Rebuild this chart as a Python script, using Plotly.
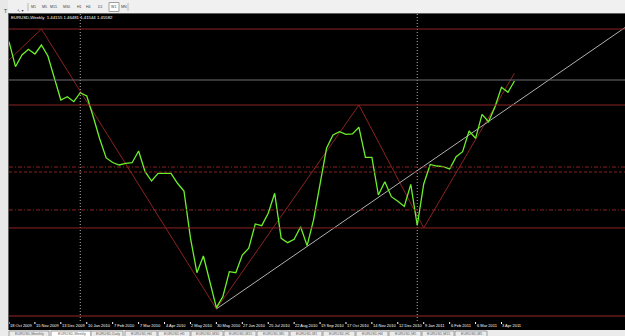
import plotly.graph_objects as go
import pandas as pd

# ---------------- data ----------------
first_week = "2009-10-18"
closes = [1.5034, 1.4739, 1.4877, 1.4944, 1.4889, 1.4995, 1.4865, 1.4602, 1.4346, 1.4385,
          1.4326, 1.4432, 1.4393, 1.4149, 1.3886, 1.3662, 1.3608, 1.3579, 1.3599, 1.3606,
          1.3744, 1.3500, 1.3390, 1.3481, 1.3481, 1.3481, 1.3363, 1.3272, 1.2718, 1.2308,
          1.2505, 1.2210, 1.1895, 1.2025, 1.2320, 1.2308, 1.2517, 1.2596, 1.2883, 1.2863,
          1.3009, 1.3245, 1.2714, 1.2662, 1.2702, 1.2851, 1.2627, 1.2930, 1.3363, 1.3776,
          1.3933, 1.3972, 1.3941, 1.3945, 1.4024, 1.3670, 1.3670, 1.3225, 1.3382, 1.3205,
          1.3152, 1.3090, 1.3351, 1.2865, 1.3355, 1.3585, 1.3567, 1.3559, 1.3532, 1.3677,
          1.3736, 1.3980, 1.3894, 1.4177, 1.4090, 1.4267, 1.4496, 1.4437, 1.4570]

zigzag_dates = ["2009-10-18", "2009-11-22", "2010-05-30", "2010-10-31", "2011-01-09", "2011-04-17"]
zigzag_prices = [1.4818, 1.5184, 1.1880, 1.4287, 1.2836, 1.4661]

trend_dates = ["2010-05-30", "2011-01-16"]
trend_prices = [1.1880, 1.3618]

level_prices = [1.5184, 1.4287, 1.3555, 1.3496, 1.3048, 1.2836]
level_dashes = ["solid", "solid", "4px,2px,1px,2px", "3px,2px", "4px,2px,1px,2px", "solid"]
bottom_level = 1.1797
bid_price = 1.4582

separator_dates = ["2010-01-03", "2011-01-02"]

label_dates = ["2009-10-18", "2009-11-15", "2009-12-13", "2010-01-10", "2010-02-07", "2010-03-07",
               "2010-04-04", "2010-05-02", "2010-05-30", "2010-06-27", "2010-07-25", "2010-08-22",
               "2010-09-19", "2010-10-17", "2010-11-14", "2010-12-12", "2011-01-09", "2011-02-06",
               "2011-03-06", "2011-04-03"]
label_texts = ["18 Oct 2009", "15 Nov 2009", "13 Dec 2009", "10 Jan 2010", "7 Feb 2010", "7 Mar 2010",
               "4 Apr 2010", "2 May 2010", "30 May 2010", "27 Jun 2010", "25 Jul 2010", "22 Aug 2010",
               "19 Sep 2010", "17 Oct 2010", "14 Nov 2010", "12 Dec 2010", "9 Jan 2011", "6 Feb 2011",
               "6 Mar 2011", "3 Apr 2011"]

header_text = "EURUSD,Weekly  1.44155 1.46481 1.41544 1.45582"
toolbar_buttons = ["M1", "M5", "M15", "M30", "H1", "H4", "D1", "W1", "MN"]
tab_texts = ["EURUSD,Monthly", "EURUSD,Weekly", "EURUSD,Daily", "EURUSD,H4", "EURUSD,H1",
             "EURUSD,M30", "EURUSD,M15", "EURUSD,M5", "EURUSD,M1", "EURUSD,H1", "EURUSD,H4",
             "EURUSD,M5", "EURUSD,M15", "EURUSD,M5"]

x_range = ["2009-10-18", "2011-08-14 10:00"]
y_range = [1.1726, 1.5361]

# ---------------- layout helpers (pixel placement of chrome) ----------------
W, H = 625, 336
L, R, T, B = 9, 0, 14, 14
PW, PH = W - L - R, H - T - B


def px(xp):
    return (xp - L) / PW


def py(yp):
    return (H - B - yp) / PH


dates = pd.date_range(first_week, periods=len(closes), freq="7D")

fig = go.Figure()

# zigzag
fig.add_trace(go.Scatter(x=zigzag_dates, y=zigzag_prices, mode="lines",
                         line=dict(color="#8c2222", width=1), hoverinfo="skip"))

# trend line (ray extended to right edge)
t0 = pd.Timestamp(trend_dates[0]); t1 = pd.Timestamp(trend_dates[1]); te = pd.Timestamp(x_range[1])
slope = (trend_prices[1] - trend_prices[0]) / (t1 - t0).total_seconds()
trend_end = trend_prices[0] + slope * (te - t0).total_seconds()
fig.add_trace(go.Scatter(x=[trend_dates[0], x_range[1]], y=[trend_prices[0], trend_end], mode="lines",
                         line=dict(color="#c4c4c4", width=0.9), hoverinfo="skip"))

# close line
fig.add_trace(go.Scatter(x=dates, y=closes, mode="lines",
                         line=dict(color="#6cf02a", width=1.3), hoverinfo="skip"))

shapes = []
# background panels
shapes.append(dict(type="rect", xref="paper", yref="paper", x0=px(0), x1=px(W), y0=py(0), y1=py(13),
                   fillcolor="#f0f0f0", line=dict(width=0), layer="below"))
shapes.append(dict(type="rect", xref="paper", yref="paper", x0=px(0), x1=px(8), y0=py(0), y1=py(H),
                   fillcolor="#e8e8e8", line=dict(width=0), layer="below"))
shapes.append(dict(type="rect", xref="paper", yref="paper", x0=px(0), x1=px(W), y0=py(330), y1=py(H),
                   fillcolor="#ececec", line=dict(width=0), layer="below"))
shapes.append(dict(type="line", xref="paper", yref="paper", x0=px(8), x1=px(W), y0=py(13.5), y1=py(13.5),
                   line=dict(color="#606060", width=1)))
shapes.append(dict(type="line", xref="paper", yref="paper", x0=px(8.5), x1=px(8.5), y0=py(13), y1=py(330),
                   line=dict(color="#606060", width=1)))

# separators
for d in separator_dates:
    shapes.append(dict(type="line", xref="x", yref="paper", x0=d, x1=d, y0=py(14), y1=py(322),
                       line=dict(color="#b0b0b0", width=1, dash="1px,2px")))

# horizontal levels
for p, ds in zip(level_prices, level_dashes):
    shapes.append(dict(type="line", xref="paper", yref="y", x0=0, x1=1, y0=p, y1=p,
                       line=dict(color="#8c2222", width=1, dash=ds)))
shapes.append(dict(type="line", xref="paper", yref="y", x0=0, x1=1, y0=bottom_level, y1=bottom_level,
                   line=dict(color="#4a1414", width=2)))
shapes.append(dict(type="line", xref="paper", yref="y", x0=0, x1=1, y0=bid_price, y1=bid_price,
                   line=dict(color="#6e6e78", width=1)))

annotations = []
font_small = dict(family="Liberation Sans", size=4, color="#ffffff")
for d, t in zip(label_dates, label_texts):
    annotations.append(dict(x=d, y=py(326), xref="x", yref="paper", text=t, showarrow=False,
                            xanchor="left", yanchor="middle", xshift=0, font=font_small,
                            borderpad=0))
    shapes.append(dict(type="line", xref="x", yref="paper", x0=d, x1=d, y0=py(322), y1=py(324),
                       line=dict(color="#ffffff", width=1)))

annotations.append(dict(x=px(10), y=py(17.5), xref="paper", yref="paper", text=header_text,
                        showarrow=False, xanchor="left", yanchor="middle",
                        font=dict(family="Liberation Sans", size=4.3, color="#ffffff"), borderpad=0))

# toolbar buttons
btn_x = [33, 44, 53, 66, 79, 89, 100, 114, 124]
shapes.append(dict(type="rect", xref="paper", yref="paper", x0=px(109), x1=px(119), y0=py(2.5), y1=py(11.5),
                   line=dict(color="#a0a0a0", width=1), fillcolor="#ffffff"))
for bx, bt in zip(btn_x, toolbar_buttons):
    annotations.append(dict(x=px(bx), y=py(7), xref="paper", yref="paper", text=bt, showarrow=False,
                            xanchor="center", yanchor="middle", borderpad=0,
                            font=dict(family="Liberation Sans", size=3.6, color="#404040")))
for sx in [28, 128]:
    shapes.append(dict(type="line", xref="paper", yref="paper", x0=px(sx), x1=px(sx), y0=py(3), y1=py(11),
                       line=dict(color="#b8b8b8", width=1)))
annotations.append(dict(x=px(3), y=py(7), xref="paper", yref="paper", text="T", showarrow=False,
                        borderpad=0, font=dict(family="Liberation Sans", size=5, color="#404040")))
annotations.append(dict(x=px(16), y=py(7), xref="paper", yref="paper", text="↖ ▾", showarrow=False,
                        borderpad=0, font=dict(family="DejaVu Sans", size=4, color="#404040")))

# bottom tabs
tab_x0 = [9, 51, 91]
tab_w = 33
x0 = 125
for i in range(3, len(tab_texts)):
    tab_x0.append(x0)
    x0 += tab_w
for i, (tx, tt) in enumerate(zip(tab_x0, tab_texts)):
    w = 41 if i < 2 else (33 if i == 2 else tab_w)
    shapes.append(dict(type="rect", xref="paper", yref="paper", x0=px(tx), x1=px(tx + w - 1),
                       y0=py(331), y1=py(338), fillcolor="#ffffff" if i == 1 else "#ececec",
                       line=dict(color="#a0a0a0", width=1)))
    annotations.append(dict(x=px(tx + w / 2), y=py(334), xref="paper", yref="paper", text=tt,
                            showarrow=False, xanchor="center", yanchor="middle", borderpad=0,
                            font=dict(family="Liberation Sans", size=3.6, color="#606060")))

fig.update_layout(
    width=W, height=H, margin=dict(l=L, r=R, t=T, b=B),
    paper_bgcolor="#000000", plot_bgcolor="#000000", showlegend=False,
    xaxis=dict(type="date", range=x_range, showgrid=False, zeroline=False, showticklabels=False,
               ticks="", fixedrange=True),
    yaxis=dict(range=y_range, showgrid=False, zeroline=False, showticklabels=False, ticks="",
               fixedrange=True),
    shapes=shapes, annotations=annotations,
)

fig.write_html("out.html")
